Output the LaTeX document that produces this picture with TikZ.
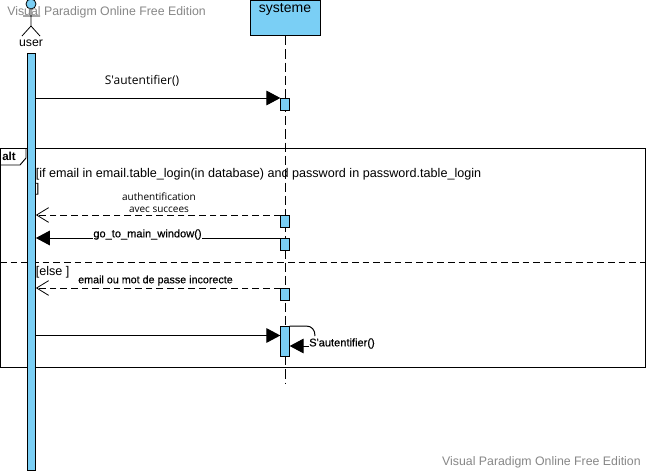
\documentclass[tikz,border=0pt]{standalone}
\usepackage{fontspec}
\setmainfont{Liberation Sans}
\newfontfamily\msgfont{Open Sans}
\newfontfamily\heavyfont[FakeBold=0.4]{Liberation Sans}
\usetikzlibrary{arrows.meta}
\definecolor{barblue}{RGB}{122,207,245}
\definecolor{wmgray}{RGB}{135,135,135}
\tikzset{
  bar/.style={draw,fill=barblue,line width=.75pt,minimum width=6.25pt,inner sep=0pt},
  head/.style={-{Triangle[length=10.5pt,width=11pt]},line width=.75pt},
  open/.style={dashed,dash pattern=on 5pt off 3pt,line width=.7pt,-{Straight Barb[length=9pt,width=11pt,line width=.6pt]}},
  guard/.style={inner sep=0pt,anchor=west,font=\fontsize{9.45}{11}\selectfont},
  small/.style={inner sep=0pt,font=\msgfont\fontsize{7.5}{9.2}\selectfont,align=center},
  tiny/.style={inner sep=0pt,fill=white,font=\heavyfont\fontsize{8.3}{9}\selectfont},
  watermark/.style={inner sep=0pt,text=wmgray,font=\fontsize{9.25}{11}\selectfont}
}
\begin{document}
\begin{tikzpicture}[x=.75pt,y=-.75pt]
  \useasboundingbox (0,0) rectangle (646,471);
  \fill[white] (0,0) rectangle (646,471);
  % frame
  \draw[line width=.75pt] (.5,148.5) rectangle (645.5,367.5);
  \coordinate (fl) at (0,262.5);
  \coordinate (fr) at (645,262.5);
  \draw[line width=.7pt,dash pattern=on 5pt off 3pt] (fl) -- (fr);
  \draw[line width=.7pt] (26,148.5) -- (26,158) -- (20,165) -- (.5,165);
  \node[inner sep=0pt,anchor=west,font=\bfseries\fontsize{8.7}{10}\selectfont] (alt) at (2,156) {alt};
  % lifelines
  \node[draw,fill=barblue,line width=.75pt,minimum width=52.5pt,minimum height=26.5pt,inner sep=0pt,anchor=north] (systeme) at (285,-.5) {};
  \node[inner sep=0pt,font=\fontsize{10.5}{12}\selectfont] (systemetxt) at (285,9) {systeme};
  \coordinate (sysend) at (285,384);
  \draw[line width=.7pt,dash pattern=on 7pt off 3pt] (systeme.south) -- (sysend);
  \node[bar,anchor=north,minimum height=312.75pt] (userbar) at (31.2,53) {};
  % actor
  \begin{scope}[line width=.6pt]
    \draw[fill=barblue] (31,4) circle[radius=5];
    \draw (31,9) -- (31,26) -- (22,36) (31,26) -- (40,36) (23,16) -- (40,16);
  \end{scope}
  \node[inner sep=0pt,font=\fontsize{9.2}{11}\selectfont] (user) at (31,43) {user};
  % activations
  \node[bar,anchor=north,minimum height=9pt] (act1) at (285,98) {};
  \node[bar,anchor=north,minimum height=9pt] (act2) at (285,215) {};
  \node[bar,anchor=north,minimum height=9pt] (act3) at (285,238) {};
  \node[bar,anchor=north,minimum height=9pt] (act4) at (285,288) {};
  \node[bar,anchor=north,minimum height=22.5pt] (act5) at (285,326) {};
  % messages
  \draw[head] (userbar.east |- act1.north) -- (act1.north west);
  \node[small,font=\msgfont\fontsize{9}{10}\selectfont] (auth) at (142,81) {S'autentifier()};
  \draw[open] (act2.north west) -- (userbar.east |- act2.north);
  \node[small] (succes) at (159,203) {authentification\\avec succees};
  \draw[head] (act3.north west) -- (userbar.east |- act3.north);
  \node[tiny] (main) at (147.5,234.5) {go\_to\_main\_window()};
  \draw[open] (act4.north west) -- (userbar.east |- act4.north);
  \node[tiny,font=\heavyfont\fontsize{8.05}{9}\selectfont] (incorrect) at (155.5,280.5) {email ou mot de passe incorecte};
  \coordinate (act5in) at (act5.west |- 0,335.5);
  \draw[head] (userbar.east |- act5in) -- (act5in);
  \coordinate (selfin) at (act5.east |- 0,346);
  \draw[line width=.75pt] (act5.north east) -- (306,326) .. controls (312,326) and (315,330) .. (315,336);
  \draw[head] (316,346) -- (selfin);
  \node[tiny,anchor=west] (selfmsg) at (309,343.5) {S'autentifier()};
  % guards
  \node[guard] (guard1) at (35.5,174.5) {[if email in email.table\_login(in database) and password in password.table\_login};
  \node[guard] (guard1b) at (35.5,189.5) {]};
  \node[guard] (guard2) at (35.5,272.5) {[else ]};
  % watermarks
  \node[watermark,anchor=west] (wm1) at (7,12) {Visual Paradigm Online Free Edition};
  \node[watermark,anchor=east] (wm2) at (641,462) {Visual Paradigm Online Free Edition};
\end{tikzpicture}
\end{document}
